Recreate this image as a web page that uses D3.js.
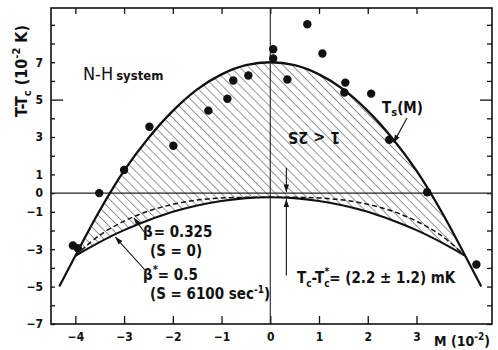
<!DOCTYPE html>
<html><head><meta charset="utf-8">
<script src="https://cdn.jsdelivr.net/npm/d3@7"></script>
<style>
body{margin:0;background:#fff}
svg{display:block}
text{font-family:'Liberation Sans Narrow','DejaVu Sans Condensed','Arial Narrow',sans-serif;fill:#111}
</style></head><body>
<svg id="chart" width="498" height="350"></svg>
<script>
// Magnetisation grid on which the three boundary curves are tabulated
const mGrid   = [-4, -3.5, -3, -2.5, -2, -1.5, -1, -0.5, 0, 0.5, 1, 1.5, 2, 2.5, 3, 3.5, 4];
// Upper spinodal-like curve Ts(M)
const tsCurve = [-3.35, -0.93, 1.2, 2.95, 4.4, 5.55, 6.35, 6.84, 7.0, 6.84, 6.35, 5.55, 4.4, 2.95, 1.2, -0.93, -3.35];
// Coexistence curve, beta* = 0.5 (S = 6100 s^-1)
const betaStar = [-3.35, -2.62, -1.98, -1.45, -1.0, -0.66, -0.42, -0.27, -0.22, -0.27, -0.42, -0.66, -1.0, -1.45, -1.98, -2.62, -3.35];
// Coexistence curve, beta = 0.325 (S = 0)
const betaIsing = [-3.35, -2.25, -1.5, -0.96, -0.6, -0.37, -0.26, -0.225, -0.22, -0.225, -0.26, -0.37, -0.6, -0.96, -1.5, -2.25, -3.35];
// Straight continuations below the meeting points
const tailLeftM = [-4.33, -4], tailLeftT = [-5, -3.35];
const tailRightM = [4, 4.33], tailRightT = [-3.35, -5];
// Measured points
const pointsM = [-4.05, -3.95, -3.51, -3.0, -2.48, -1.99, -1.27, -0.88, -0.76, -0.45, 0.06, 0.06, 0.35, 0.76, 1.07, 1.52, 1.54, 2.07, 2.44, 3.22, 4.23];
const pointsT = [-2.8, -2.95, 0.0, 1.24, 3.55, 2.53, 4.41, 5.05, 6.02, 6.29, 7.69, 7.2, 6.08, 9.03, 7.47, 5.38, 5.91, 5.32, 2.85, 0.05, -3.82];
// Axis ticks
const xTicks = [-4, -3, -2, -1, 0, 1, 2, 3];
const yTicks = d3.range(-7, 10);
const yLabels = [7, 5, 3, 1, 0, -1, -3, -5, -7];
// Tc - Tc* gap (1e-2 K) and where its arrows are drawn
const gapM = 0.33, gapT = -0.22;

const svg = d3.select('#chart');
const x = d3.scaleLinear().domain([-4.5, 4.55]).range([51, 492]);
const y = d3.scaleLinear().domain([-7, 9.9]).range([324, 8]);
const [x0, x1] = x.range(), [y1, y0] = y.range();

// Hatch pattern for the metastable band
const defs = svg.append('defs');
defs.append('pattern').attr('id', 'hatch').attr('patternUnits', 'userSpaceOnUse')
  .attr('width', 6.4).attr('height', 10).attr('patternTransform', 'rotate(-45)')
  .append('line').attr('x1', 0).attr('y1', 0).attr('x2', 0).attr('y2', 10)
  .attr('stroke', '#111').attr('stroke-width', 0.9);
defs.append('marker').attr('id', 'arr').attr('viewBox', '0 0 10 10')
  .attr('refX', 10).attr('refY', 5).attr('markerWidth', 7).attr('markerHeight', 7)
  .attr('orient', 'auto').append('path').attr('d', 'M0,1.5 L10,5 L0,8.5 Z').attr('fill', '#111');

const band = d3.area().x((d, i) => x(mGrid[i])).y0((d, i) => y(betaStar[i])).y1((d, i) => y(tsCurve[i]))
  .curve(d3.curveCatmullRom);
svg.append('path').datum(mGrid).attr('d', band).attr('fill', 'url(#hatch)');

// Frame
svg.append('rect').attr('x', x0).attr('y', y0).attr('width', x1 - x0).attr('height', y1 - y0)
  .attr('fill', 'none').attr('stroke', '#111').attr('stroke-width', 1.6);

// Axes (ticks drawn inward)
const styleAxis = g => { g.select('.domain').remove(); g.selectAll('line').attr('stroke', '#111').attr('stroke-width', 1.3); };
svg.append('g').attr('transform', `translate(0,${y1})`)
  .call(d3.axisBottom(x).tickValues(xTicks).tickSize(-8).tickPadding(8).tickFormat(d3.format('d')))
  .call(styleAxis)
  .call(g => g.selectAll('text').attr('font-size', 12).attr('font-weight', 'bold').attr('dy', '0.75em'));
svg.append('g').attr('transform', `translate(0,${y0})`)
  .call(d3.axisTop(x).tickValues(xTicks).tickSize(-6).tickFormat(''))
  .call(styleAxis);
svg.append('g').attr('transform', `translate(${x0},0)`)
  .call(d3.axisLeft(y).tickValues(yTicks).tickSize(-4).tickPadding(8)
    .tickFormat(d => yLabels.includes(d) ? d3.format('d')(d) : ''))
  .call(styleAxis)
  .call(g => g.selectAll('.tick').filter(d => d === 5).select('line').attr('x2', 12))
  .call(g => g.selectAll('text').attr('font-size', 12).attr('font-weight', 'bold'));
svg.append('g').attr('transform', `translate(${x1},0)`)
  .call(d3.axisRight(y).tickValues(yTicks).tickSize(-5).tickFormat(''))
  .call(styleAxis)
  .call(g => g.selectAll('.tick').filter(d => d === 5).select('line').attr('x2', -12));

// Reference lines T = Tc and M = 0
svg.append('line').attr('x1', x0).attr('x2', x1).attr('y1', y(0)).attr('y2', y(0))
  .attr('stroke', '#222').attr('stroke-width', 1.1);
svg.append('line').attr('x1', x(0)).attr('x2', x(0)).attr('y1', y0).attr('y2', y1)
  .attr('stroke', '#222').attr('stroke-width', 1.1);

// Curves
const line = arrT => d3.line().x((d, i) => x(mGrid[i])).y((d, i) => y(arrT[i])).curve(d3.curveCatmullRom);
svg.append('path').datum(mGrid).attr('d', line(betaIsing)).attr('fill', 'none')
  .attr('stroke', '#111').attr('stroke-width', 1.5).attr('stroke-dasharray', '5,3');
svg.append('path').datum(mGrid).attr('d', line(betaStar)).attr('fill', 'none')
  .attr('stroke', '#111').attr('stroke-width', 2.1);
svg.append('path').datum(mGrid).attr('d', line(tsCurve)).attr('fill', 'none')
  .attr('stroke', '#111').attr('stroke-width', 2.3);
const seg = (ms, ts) => d3.line().x((d, i) => x(ms[i])).y((d, i) => y(ts[i]))(ms);
[[tailLeftM, tailLeftT], [tailRightM, tailRightT]].forEach(([ms, ts]) =>
  svg.append('path').attr('d', seg(ms, ts)).attr('fill', 'none').attr('stroke', '#111').attr('stroke-width', 2.2));

// Data points
svg.append('g').selectAll('circle').data(pointsM).join('circle')
  .attr('cx', d => x(d)).attr('cy', (d, i) => y(pointsT[i])).attr('r', 4.2).attr('fill', '#111');

// Tc - Tc* gap arrows
svg.append('line').attr('x1', x(gapM)).attr('x2', x(gapM)).attr('y1', y(1.35)).attr('y2', y(0) - 1)
  .attr('stroke', '#111').attr('stroke-width', 1.1).attr('marker-end', 'url(#arr)');
svg.append('line').attr('x1', x(gapM)).attr('x2', x(gapM)).attr('y1', y(-4.4)).attr('y2', y(gapT - 0.03) + 1.5)
  .attr('stroke', '#111').attr('stroke-width', 1.1).attr('marker-end', 'url(#arr)');

// Labels
const t = (px, py, size, weight) => svg.append('text').attr('x', px).attr('y', py)
  .attr('font-size', size).attr('font-weight', weight || 'bold');
const lab1 = t(83, 80, 18, 'normal');
lab1.append('tspan').text('N-H');
lab1.append('tspan').attr('font-size', 13).attr('font-weight', 'bold').attr('dx', 3).text('system');

svg.append('text').attr('transform', `translate(314,132) rotate(180)`).attr('text-anchor', 'middle')
  .attr('font-size', 16).attr('font-weight', 'bold').text('1 < 2S');

const ts = t(382, 113, 15);
ts.append('tspan').text('T');
ts.append('tspan').attr('font-size', 11).attr('dy', 3).text('s');
ts.append('tspan').attr('dy', -3).text('(M)');
svg.append('line').attr('x1', 407).attr('y1', 118).attr('x2', x(2.53)).attr('y2', y(2.7))
  .attr('stroke', '#111').attr('stroke-width', 1.1).attr('marker-end', 'url(#arr)');

const b1 = t(143, 237, 15);
b1.append('tspan').text('β');
b1.append('tspan').attr('dx', 1).text('= 0.325');
t(150, 256, 15).text('(S = 0)');
const b2 = t(143, 280, 15);
b2.append('tspan').text('β');
b2.append('tspan').attr('font-size', 11).attr('dy', -7).text('*');
b2.append('tspan').attr('dy', 7).text('= 0.5');
const s2 = t(150, 299, 15);
s2.append('tspan').text('(S = 6100 sec');
s2.append('tspan').attr('font-size', 10).attr('dy', -6).text('-1');
s2.append('tspan').attr('dy', 6).text(')');
// pointers from the exponent labels to their curves
svg.append('line').attr('x1', 145).attr('y1', 233).attr('x2', x(-2.8)).attr('y2', y(-1.32))
  .attr('stroke', '#111').attr('stroke-width', 1.1).attr('marker-end', 'url(#arr)');
svg.append('line').attr('x1', 145).attr('y1', 270).attr('x2', x(-3.18)).attr('y2', y(-2.35))
  .attr('stroke', '#111').attr('stroke-width', 1.1).attr('marker-end', 'url(#arr)');

const gl = t(297, 283, 15);
gl.append('tspan').text('T');
gl.append('tspan').attr('font-size', 10).attr('dy', 4).text('c');
gl.append('tspan').attr('dy', -4).text('-T');
gl.append('tspan').attr('font-size', 10).attr('dy', 4).text('c');
gl.append('tspan').attr('font-size', 10).attr('dx', -5).attr('dy', -12).text('*');
gl.append('tspan').attr('dy', 8).text('= (2.2 ± 1.2) mK');

// Axis titles
const yt = svg.append('text').attr('transform', 'translate(27,71) rotate(-90)').attr('text-anchor', 'middle')
  .attr('font-size', 16).attr('font-weight', 'bold');
yt.append('tspan').text('T-T');
yt.append('tspan').attr('font-size', 11).attr('dy', 4).text('c');
yt.append('tspan').attr('dy', -4).text(' (10');
yt.append('tspan').attr('font-size', 11).attr('dy', -7).text('-2');
yt.append('tspan').attr('dy', 7).text(' K)');
const xt = t(434, 346, 14);
xt.append('tspan').text('M (10');
xt.append('tspan').attr('font-size', 10).attr('dy', -6).text('-2');
xt.append('tspan').attr('dy', 6).text(')');
</script>
</body></html>
